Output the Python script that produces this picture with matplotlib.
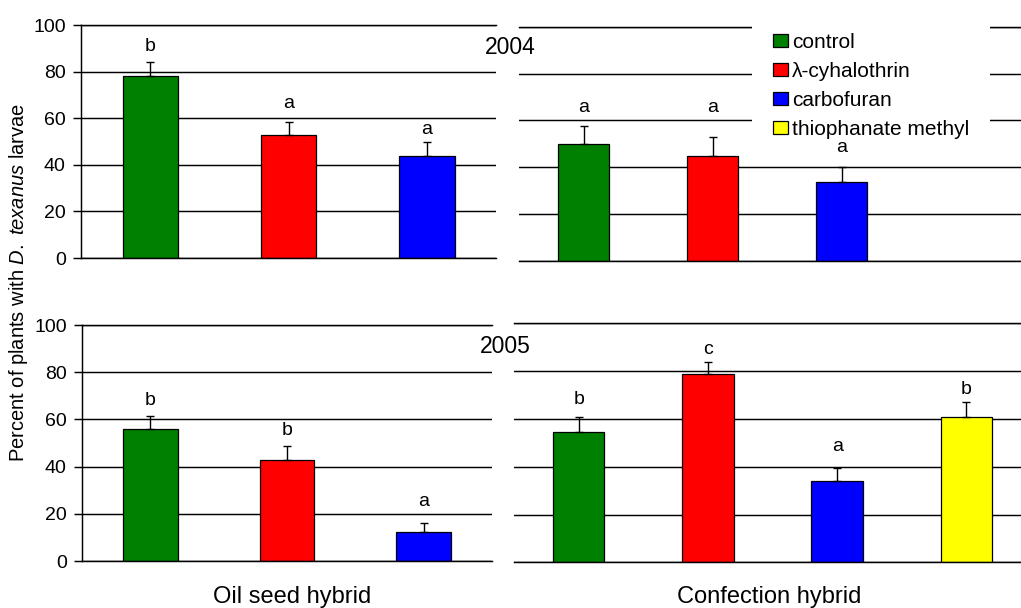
import matplotlib
matplotlib.use("Agg")
import matplotlib.pyplot as plt
from matplotlib.patches import Patch

plt.rcParams['font.family'] = ['Liberation Sans', 'DejaVu Sans']
plt.rcParams['mathtext.fontset'] = 'custom'
plt.rcParams['mathtext.rm'] = 'Liberation Sans'
plt.rcParams['mathtext.it'] = 'Liberation Sans:italic'

# data
treatments = ['control', 'λ-cyhalothrin', 'carbofuran', 'thiophanate methyl']
colors = ['#008000', '#ff0000', '#0000ff', '#ffff00']

oil_2004 = [78.0, 52.8, 43.9]
oil_2004_se = [6.1, 5.7, 5.8]
oil_2004_let = ['b', 'a', 'a']
oil_2004_lety = [90.6, 66.1, 55.2]

conf_2004 = [49.9, 44.8, 33.8]
conf_2004_se = [7.7, 8.1, 6.4]
conf_2004_let = ['a', 'a', 'a']
conf_2004_lety = [65.7, 65.7, 48.4]

oil_2005 = [55.8, 42.8, 12.4]
oil_2005_se = [5.6, 5.9, 3.6]
oil_2005_let = ['b', 'b', 'a']
oil_2005_lety = [68.2, 55.5, 25.1]

conf_2005 = [54.6, 78.7, 34.1, 60.9]
conf_2005_se = [6.3, 5.1, 5.5, 6.3]
conf_2005_let = ['b', 'c', 'a', 'b']
conf_2005_lety = [68.3, 89.1, 48.4, 72.1]

yticks = [0, 20, 40, 60, 80, 100]

W, H = 1021, 608
fig = plt.figure(figsize=(W / 100, H / 100), dpi=100)
LW = 1.05


def pix_axes(left, right, y0, y100):
    return fig.add_axes([left / W, 1 - y0 / H, (right - left) / W, (y0 - y100) / H])


def panel(ax, vals, se, lets, lety, nslots, first_col):
    x = list(range(len(vals)))
    ax.bar(x, vals, width=0.4, color=colors[:len(vals)], edgecolor='black',
           linewidth=0.9, zorder=2)
    ax.errorbar(x, vals, yerr=[[0] * len(vals), se], fmt='none', ecolor='black',
                elinewidth=1.0, capsize=2.6, capthick=1.0, zorder=3)
    for xi, t, ty in zip(x, lets, lety):
        ax.text(xi, ty, t, ha='center', va='center', fontsize=14, zorder=4)
    ax.set_xlim(-0.5, nslots - 0.5)
    ax.set_ylim(0, 100)
    ax.set_yticks(yticks)
    ax.set_xticks([])
    ax.set_axisbelow(True)
    ax.yaxis.grid(True, color='black', linewidth=LW)
    for s in ['top', 'bottom']:
        ax.spines[s].set_color('black')
        ax.spines[s].set_linewidth(LW)
    ax.spines['right'].set_visible(False)
    if first_col:
        ax.spines['left'].set_linewidth(LW)
        ax.tick_params(axis='y', direction='out', length=5.5, width=LW,
                       pad=5.5, labelsize=14)
    else:
        ax.spines['left'].set_visible(False)
        ax.tick_params(axis='y', left=False, labelleft=False)
    ax.patch.set_alpha(0)


ax_tl = pix_axes(81, 496, 258, 25)
ax_tr = pix_axes(519, 1035, 261, 26.7)
ax_bl = pix_axes(82, 492, 561, 325)
ax_br = pix_axes(514, 1031, 562.3, 323.3)

panel(ax_tl, oil_2004, oil_2004_se, oil_2004_let, oil_2004_lety, 3, True)
panel(ax_tr, conf_2004, conf_2004_se, conf_2004_let, conf_2004_lety, 4, False)
panel(ax_bl, oil_2005, oil_2005_se, oil_2005_let, oil_2005_lety, 3, True)
panel(ax_br, conf_2005, conf_2005_se, conf_2005_let, conf_2005_lety, 4, False)

handles = [Patch(facecolor=c, edgecolor='black', linewidth=0.9) for c in colors]
leg = ax_tr.legend(handles, treatments, loc='upper left',
                   bbox_to_anchor=(752 / W, 1 - 12 / H), bbox_transform=fig.transFigure,
                   fontsize=15, frameon=True, fancybox=False, framealpha=1,
                   facecolor='white', edgecolor='none', borderpad=1.0,
                   borderaxespad=0, handlelength=0.72, handleheight=0.58,
                   handletextpad=0.2, labelspacing=0.48)
leg.set_zorder(2.5)

fig.text(510 / W, 1 - 47.5 / H, '2004', ha='center', va='center', fontsize=16.5)
fig.text(505.5 / W, 1 - 346.5 / H, '2005', ha='center', va='center', fontsize=16.5)

fig.text(19 / W, 1 - 282.5 / H, r'Percent of plants with $\mathit{D.\ texanus}$ larvae',
         rotation=90, ha='center', va='center', fontsize=14.5)

fig.text(292.5 / W, 1 - 597 / H, 'Oil seed hybrid', ha='center', va='center', fontsize=17)
fig.text(769 / W, 1 - 597 / H, 'Confection hybrid', ha='center', va='center', fontsize=17)

fig.savefig('out.png', dpi=100)
